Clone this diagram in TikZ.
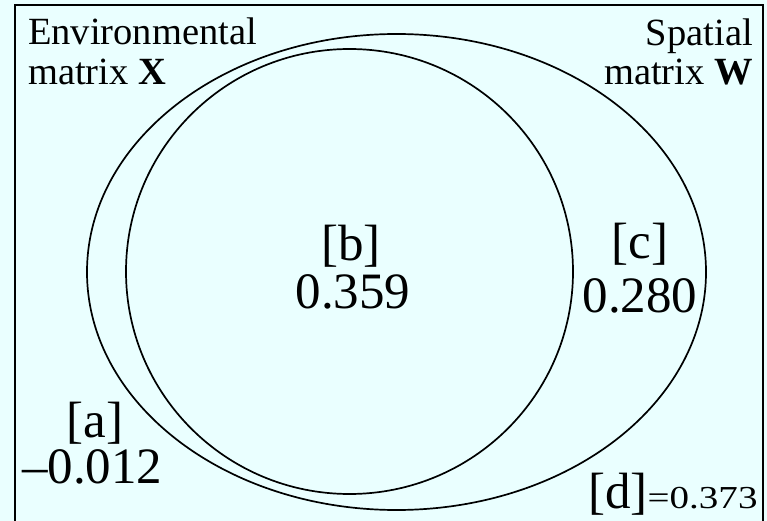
\documentclass[tikz,border=0pt]{standalone}
\usepackage{fontspec}
\setmainfont{Liberation Serif}
\definecolor{bgcyan}{RGB}{234,255,255}
\tikzset{
  lbl/.style={inner sep=0pt, font=\fontsize{38.5}{40}\selectfont},
  big/.style={inner sep=0pt, font=\fontsize{51}{54}\selectfont},
  setline/.style={line width=1.7pt, black},
}
\begin{document}
\begin{tikzpicture}[x=1pt,y=-1pt]
\useasboundingbox (0,0) rectangle (767,521);
\fill[bgcyan] (0,0) rectangle (767,521);
\draw[line width=2pt] (15,522) -- (15,5) -- (763,5) -- (763,522);
\draw[setline] (396.5,272) ellipse [x radius=309.5, y radius=238];
\draw[setline] (349.5,271.5) ellipse [x radius=223.5, y radius=222.5];
\node[lbl, anchor=base west] (envA) at (28,45) {Environmental};
\node[lbl, anchor=base west] (envB) at (28,85) {matrix \textbf{X}};
\node[lbl, anchor=base east] (spaA) at (753,46) {Spatial};
\node[lbl, anchor=base east] (spaB) at (753,85) {matrix \textbf{W}};
\node[big, anchor=base] (bA) at (351,260) {[b]};
\node[big, anchor=base] (bB) at (353,308) {0.359};
\node[big, anchor=base] (cA) at (640,258) {[c]};
\node[big, anchor=base] (cB) at (640,312) {0.280};
\node[big, anchor=base] (aA) at (95,437) {[a]};
\node[big, anchor=base west] (aB) at (22,483) {–0.012};
\node[inner sep=0pt, anchor=base west] (d) at (588,508) {{\fontsize{51}{54}\selectfont [d]}{\fontsize{32}{34}\selectfont\scalebox{1.22}[1]{=0.373}}};
\end{tikzpicture}
\end{document}
